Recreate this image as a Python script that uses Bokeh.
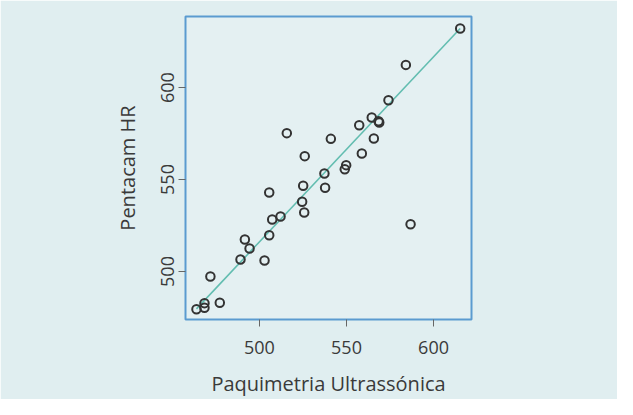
from bokeh.plotting import figure
from bokeh.models import Range1d, FixedTicker
from bokeh.embed import file_html
from bokeh.resources import INLINE

# Data
paquimetria = [615.3, 584.1, 574.1, 564.5, 568.8, 568.4, 557.3, 565.7, 558.8, 541.0,
               515.7, 526.0, 549.8, 549.0, 537.3, 537.7, 525.1, 524.5, 525.7, 505.6,
               507.3, 512.1, 505.6, 491.6, 494.3, 489.1, 502.9, 471.8, 477.2, 468.4,
               468.4, 463.8, 586.8]
pentacam = [632.1, 612.3, 593.1, 583.7, 581.0, 581.7, 579.5, 572.3, 564.1, 572.1,
            575.2, 562.7, 557.8, 555.6, 553.3, 545.5, 546.6, 537.9, 532.1, 542.9,
            528.3, 529.9, 519.7, 517.4, 512.5, 506.5, 506.0, 497.3, 483.0, 482.8,
            480.3, 479.5, 525.7]
fit_x = [463.8, 615.3]
fit_y = [479.7, 632.1]
x_ticks = [500, 550, 600]
y_ticks = [500, 550, 600]

BG = "#e0eef0"
TXT = "#3a3a3a"
FONT = "Open Sans"

p = figure(width=617, height=399, output_backend="svg", toolbar_location=None,
           x_range=Range1d(457.5, 621.8), y_range=Range1d(473.9, 638.6),
           frame_width=286, frame_height=303,
           min_border_left=185, min_border_right=146, min_border_top=16, min_border_bottom=80)

p.background_fill_color = "#e4f0f2"
p.border_fill_color = BG
p.outline_line_color = "#5b9bd0"
p.outline_line_width = 2
p.grid.visible = False

p.line(fit_x, fit_y, line_color="#62bdb0", line_width=1.6)
p.scatter(paquimetria, pentacam, size=8.5, fill_color=None, line_color="#333333", line_width=2)

for ax, ticks in ((p.xaxis[0], x_ticks), (p.yaxis[0], y_ticks)):
    ax.ticker = FixedTicker(ticks=ticks)
    ax.minor_tick_line_color = None
    ax.axis_line_color = None
    ax.major_tick_in = 0
    ax.major_tick_out = 7
    ax.major_tick_line_color = "#666666"
    ax.major_tick_line_width = 1
    ax.major_label_text_font = FONT
    ax.major_label_text_font_size = "18px"
    ax.major_label_text_color = TXT
    ax.axis_label_text_font = FONT
    ax.axis_label_text_font_size = "20px"
    ax.axis_label_text_font_style = "normal"
    ax.axis_label_text_color = TXT

p.xaxis.axis_label = "Paquimetria Ultrassónica"
p.yaxis.axis_label = "Pentacam HR"
p.yaxis.major_label_orientation = "vertical"
p.xaxis.major_label_standoff = 14
p.yaxis.major_label_standoff = 4
p.xaxis.axis_label_standoff = 13
p.yaxis.axis_label_standoff = 18

open("out.html", "w").write(file_html(p, INLINE))
